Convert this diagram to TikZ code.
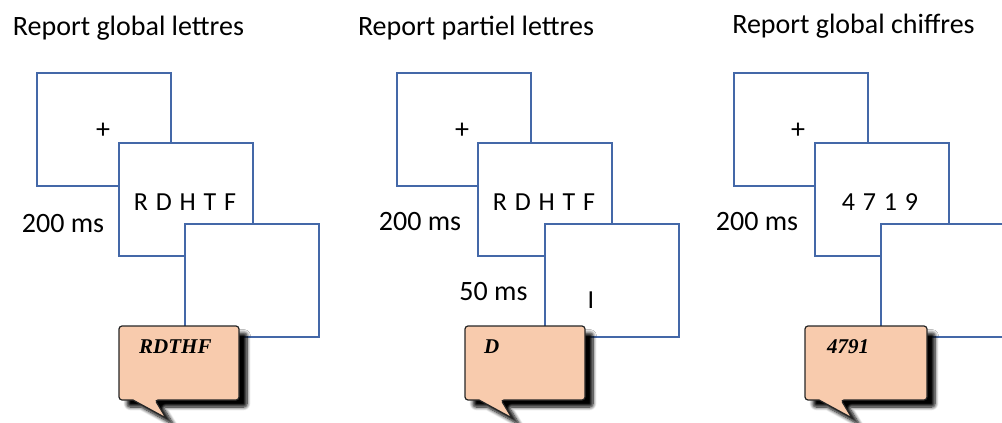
\documentclass[tikz,border=0pt]{standalone}
\usepackage{fontspec}
\setmainfont{Carlito}
\newfontfamily\answerfont{Liberation Serif}
\usepackage{xcolor}
\usetikzlibrary{shadows.blur}
\definecolor{frameblue}{RGB}{68,104,168}
\definecolor{peach}{RGB}{248,203,173}

\begin{document}
\begin{tikzpicture}[x=1pt, y=-1pt,
    screen/.style={draw=frameblue, line width=1.3pt, fill=white, minimum width=134pt, minimum height=113pt, inner sep=0pt, outer sep=0pt, anchor=north west},
    title/.style={font=\fontsize{28}{30}\selectfont, anchor=base},
    delay/.style={font=\fontsize{28}{30}\selectfont, anchor=base},
    stim/.style={font=\fontsize{26}{28}\selectfont, anchor=base},
    cross/.style={font=\fontsize{28}{30}\selectfont, anchor=center},
    answer/.style={font=\fontsize{21}{23}\answerfont\bfseries\itshape, anchor=base west, inner sep=0pt},
    bubble/.style={draw=black!85, line width=1.2pt, fill=peach, blur shadow={shadow xshift=8pt, shadow yshift=-7pt, shadow blur radius=3.5pt, shadow opacity=100, shadow blur steps=8}}]
    \useasboundingbox (0,0) rectangle (1002,423);
    \clip (0,0) rectangle (1002,423);

    % Report global lettres
    \node[title] (titleA) at (128.5,35) {Report global lettres};
    \node[screen] (fixA) at (37,73) {};
    \node[cross] (crossA) at (103,131) {+};
    \node[screen] (arrayA) at (119,143) {};
    \node[stim] (lettersA) at (185,210) {\spaceskip=0.3em R D H T F};
    \node[screen] (maskA) at (185,224) {};
    \node[delay] (timeA) at (63,232) {200 ms};
    \draw[bubble, shift={(119,326)}, rounded corners=3pt] (0,0) -- (120,0) -- (120,74) -- (36,74) [sharp corners] -- (47,92) -- (14,74) [rounded corners=3pt] -- (0,74) -- cycle;
    \node[answer] (reportA) at (139,353) {RDTHF};

    % Report partiel lettres
    \node[title] (titleB) at (476,35) {Report partiel lettres};
    \node[screen] (fixB) at (397,73) {};
    \node[cross] (crossB) at (462,131) {+};
    \node[screen] (arrayB) at (478,143) {};
    \node[stim] (lettersB) at (544,210) {\spaceskip=0.3em R D H T F};
    \node[screen] (maskB) at (545,224) {};
    \node[stim] (cueB) at (591,308) {I};
    \node[delay] (timeB) at (420,230) {200 ms};
    \node[delay] (shortB) at (493.5,300) {50 ms};
    \draw[bubble, shift={(465,326)}, rounded corners=3pt] (0,0) -- (120,0) -- (120,74) -- (36,74) [sharp corners] -- (47,92) -- (14,74) [rounded corners=3pt] -- (0,74) -- cycle;
    \node[answer] (reportB) at (484,353) {D};

    % Report global chiffres
    \node[title] (titleC) at (853.5,33) {Report global chiffres};
    \node[screen] (fixC) at (734,73) {};
    \node[cross] (crossC) at (798,131) {+};
    \node[screen] (arrayC) at (815,143) {};
    \node[stim] (digitsC) at (880,210) {\spaceskip=0.3em 4 7 1 9};
    \node[screen] (maskC) at (881,224) {};
    \node[delay] (timeC) at (757,230) {200 ms};
    \draw[bubble, shift={(805,326)}, rounded corners=3pt] (0,0) -- (122,0) -- (122,74) -- (36,74) [sharp corners] -- (47,92) -- (14,74) [rounded corners=3pt] -- (0,74) -- cycle;
    \node[answer] (reportC) at (827,353) {4791};
\end{tikzpicture}
\end{document}
